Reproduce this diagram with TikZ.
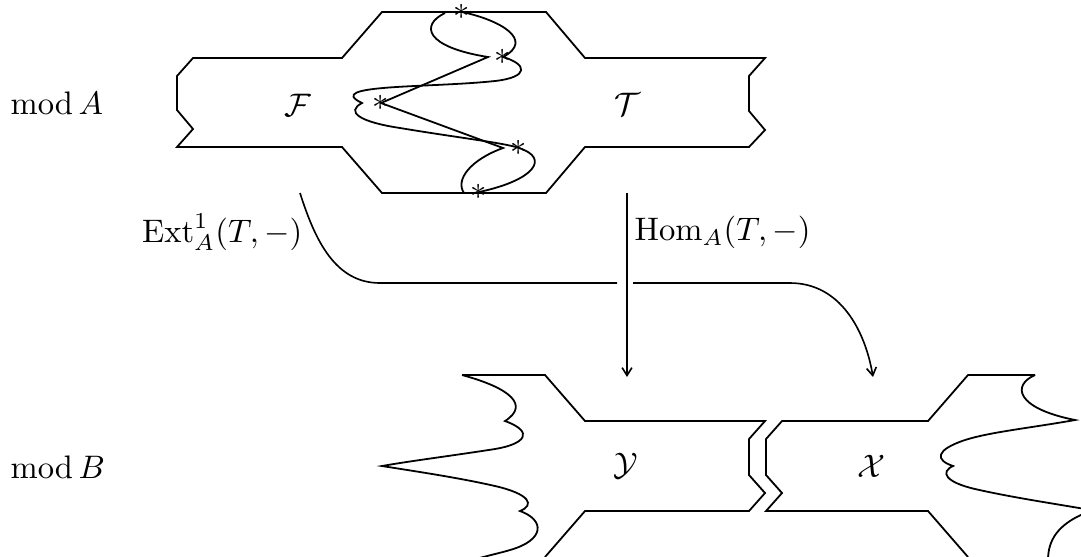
\documentclass[tikz,border=0pt]{standalone}
\usepackage{amsmath}
\usetikzlibrary{arrows.meta}
\begin{document}
\begin{tikzpicture}[x=0.307pt,y=-0.307pt,
  outline/.style={line width=0.55pt, line join=miter},
  wig/.style={line width=0.55pt},
  conn/.style={line width=0.5pt},
  tip/.style={-{Straight Barb[length=2.4pt,width=3pt]}},
  lbl/.style={inner sep=0pt},
  starmark/.style={inner sep=0pt, font=\normalsize}]
\path[use as bounding box] (0,0) rectangle (1081,556);
\begin{scope}
\clip (0,0) rectangle (1081,556);
% labels
\node[lbl,anchor=west] (modA) at (10,103) {$\operatorname{mod}A$};
\node[lbl,anchor=west] (modB) at (10,467) {$\operatorname{mod}B$};
\node[lbl] (F) at (298,105) {$\mathcal{F}$};
\node[lbl] (T) at (627,104) {$\mathcal{T}$};
\node[lbl] (Y) at (626,466) {$\mathcal{Y}$};
\node[lbl] (X) at (871,466) {$\mathcal{X}$};
% stars
\node[starmark] (s1) at (462,12) {$\ast$};
\node[starmark] (s2) at (503,57) {$\ast$};
\node[starmark] (s3) at (381,103) {$\ast$};
\node[starmark] (s4) at (519,148) {$\ast$};
\node[starmark] (s5) at (479,192) {$\ast$};
% top region mod A
\draw[outline] (193,58) -- (342,58) -- (382,12) -- (546,12) -- (585,58) -- (765,58)
  -- (749,76) -- (749,111) -- (765,130) -- (749,147) -- (585,147) -- (546,193)
  -- (382,193) -- (342,147) -- (177,147) -- (193,129) -- (177,110) -- (177,76) -- cycle;
\draw[wig] (445,13) .. controls (420,25) and (425,47) .. (488,57) -- (s3.center)
  -- (503,148) .. controls (470,160) and (455,180) .. (464,193);
\draw[wig] (s1.center) .. controls (500,20) and (535,40) .. (s2.center)
  .. controls (527,64) and (530,77) .. (495,81)
  .. controls (430,88) and (322,84) .. (362,103)
  .. controls (345,112) and (360,122) .. (400,128)
  .. controls (460,138) and (505,143) .. (s4.center)
  .. controls (550,158) and (535,180) .. (s5.center);
% bottom region Y
\draw[outline] (462,375) -- (545,375) -- (585,421) -- (765,421) -- (749,439) -- (749,475)
  -- (765,493) -- (749,511) -- (585,511) -- (545,557);
\draw[wig] (462,375) .. controls (510,388) and (530,405) .. (505,421)
  .. controls (535,432) and (525,444) .. (495,449)
  .. controls (450,456) and (410,461) .. (382,466)
  .. controls (420,472) and (460,478) .. (495,486)
  .. controls (530,494) and (535,505) .. (520,511)
  .. controls (545,520) and (545,540) .. (510,550)
  .. controls (500,553) and (490,555) .. (476,559);
% bottom region X
\draw[outline] (1035,375) -- (968,375) -- (928,421) -- (782,421) -- (766,439) -- (766,475)
  -- (782,493) -- (766,511) -- (928,511) -- (968,557);
\draw[wig] (1035,375) .. controls (1012,385) and (1015,408) .. (1075,420)
  .. controls (1030,428) and (990,432) .. (965,440)
  .. controls (935,450) and (935,460) .. (953,466)
  .. controls (940,472) and (945,482) .. (975,489)
  .. controls (1010,497) and (1050,503) .. (1085,509);
\draw[wig] (1083,514) .. controls (1058,525) and (1048,540) .. (1048,560);
% functors
\node[lbl,anchor=east] (extL) at (303,232) {$\operatorname{Ext}^1_A(T,-)$};
\node[lbl,anchor=west] (homL) at (634,232) {$\operatorname{Hom}_A(T,-)$};
\coordinate (homS) at (627,193);
\coordinate (homE) at (627,377);
\draw[conn,tip] (homS) -- (homE);
\coordinate (extS) at (300,193);
\coordinate (extC) at (380,283);
\coordinate (gapL) at (617,283);
\coordinate (gapR) at (633,283);
\coordinate (extB) at (790,283);
\coordinate (extE) at (873,377);
\draw[conn] (extS) .. controls (315,240) and (335,283) .. (extC) -- (gapL);
\draw[conn,tip] (gapR) -- (extB) .. controls (840,283) and (865,330) .. (extE);
\end{scope}
\end{tikzpicture}
\end{document}
